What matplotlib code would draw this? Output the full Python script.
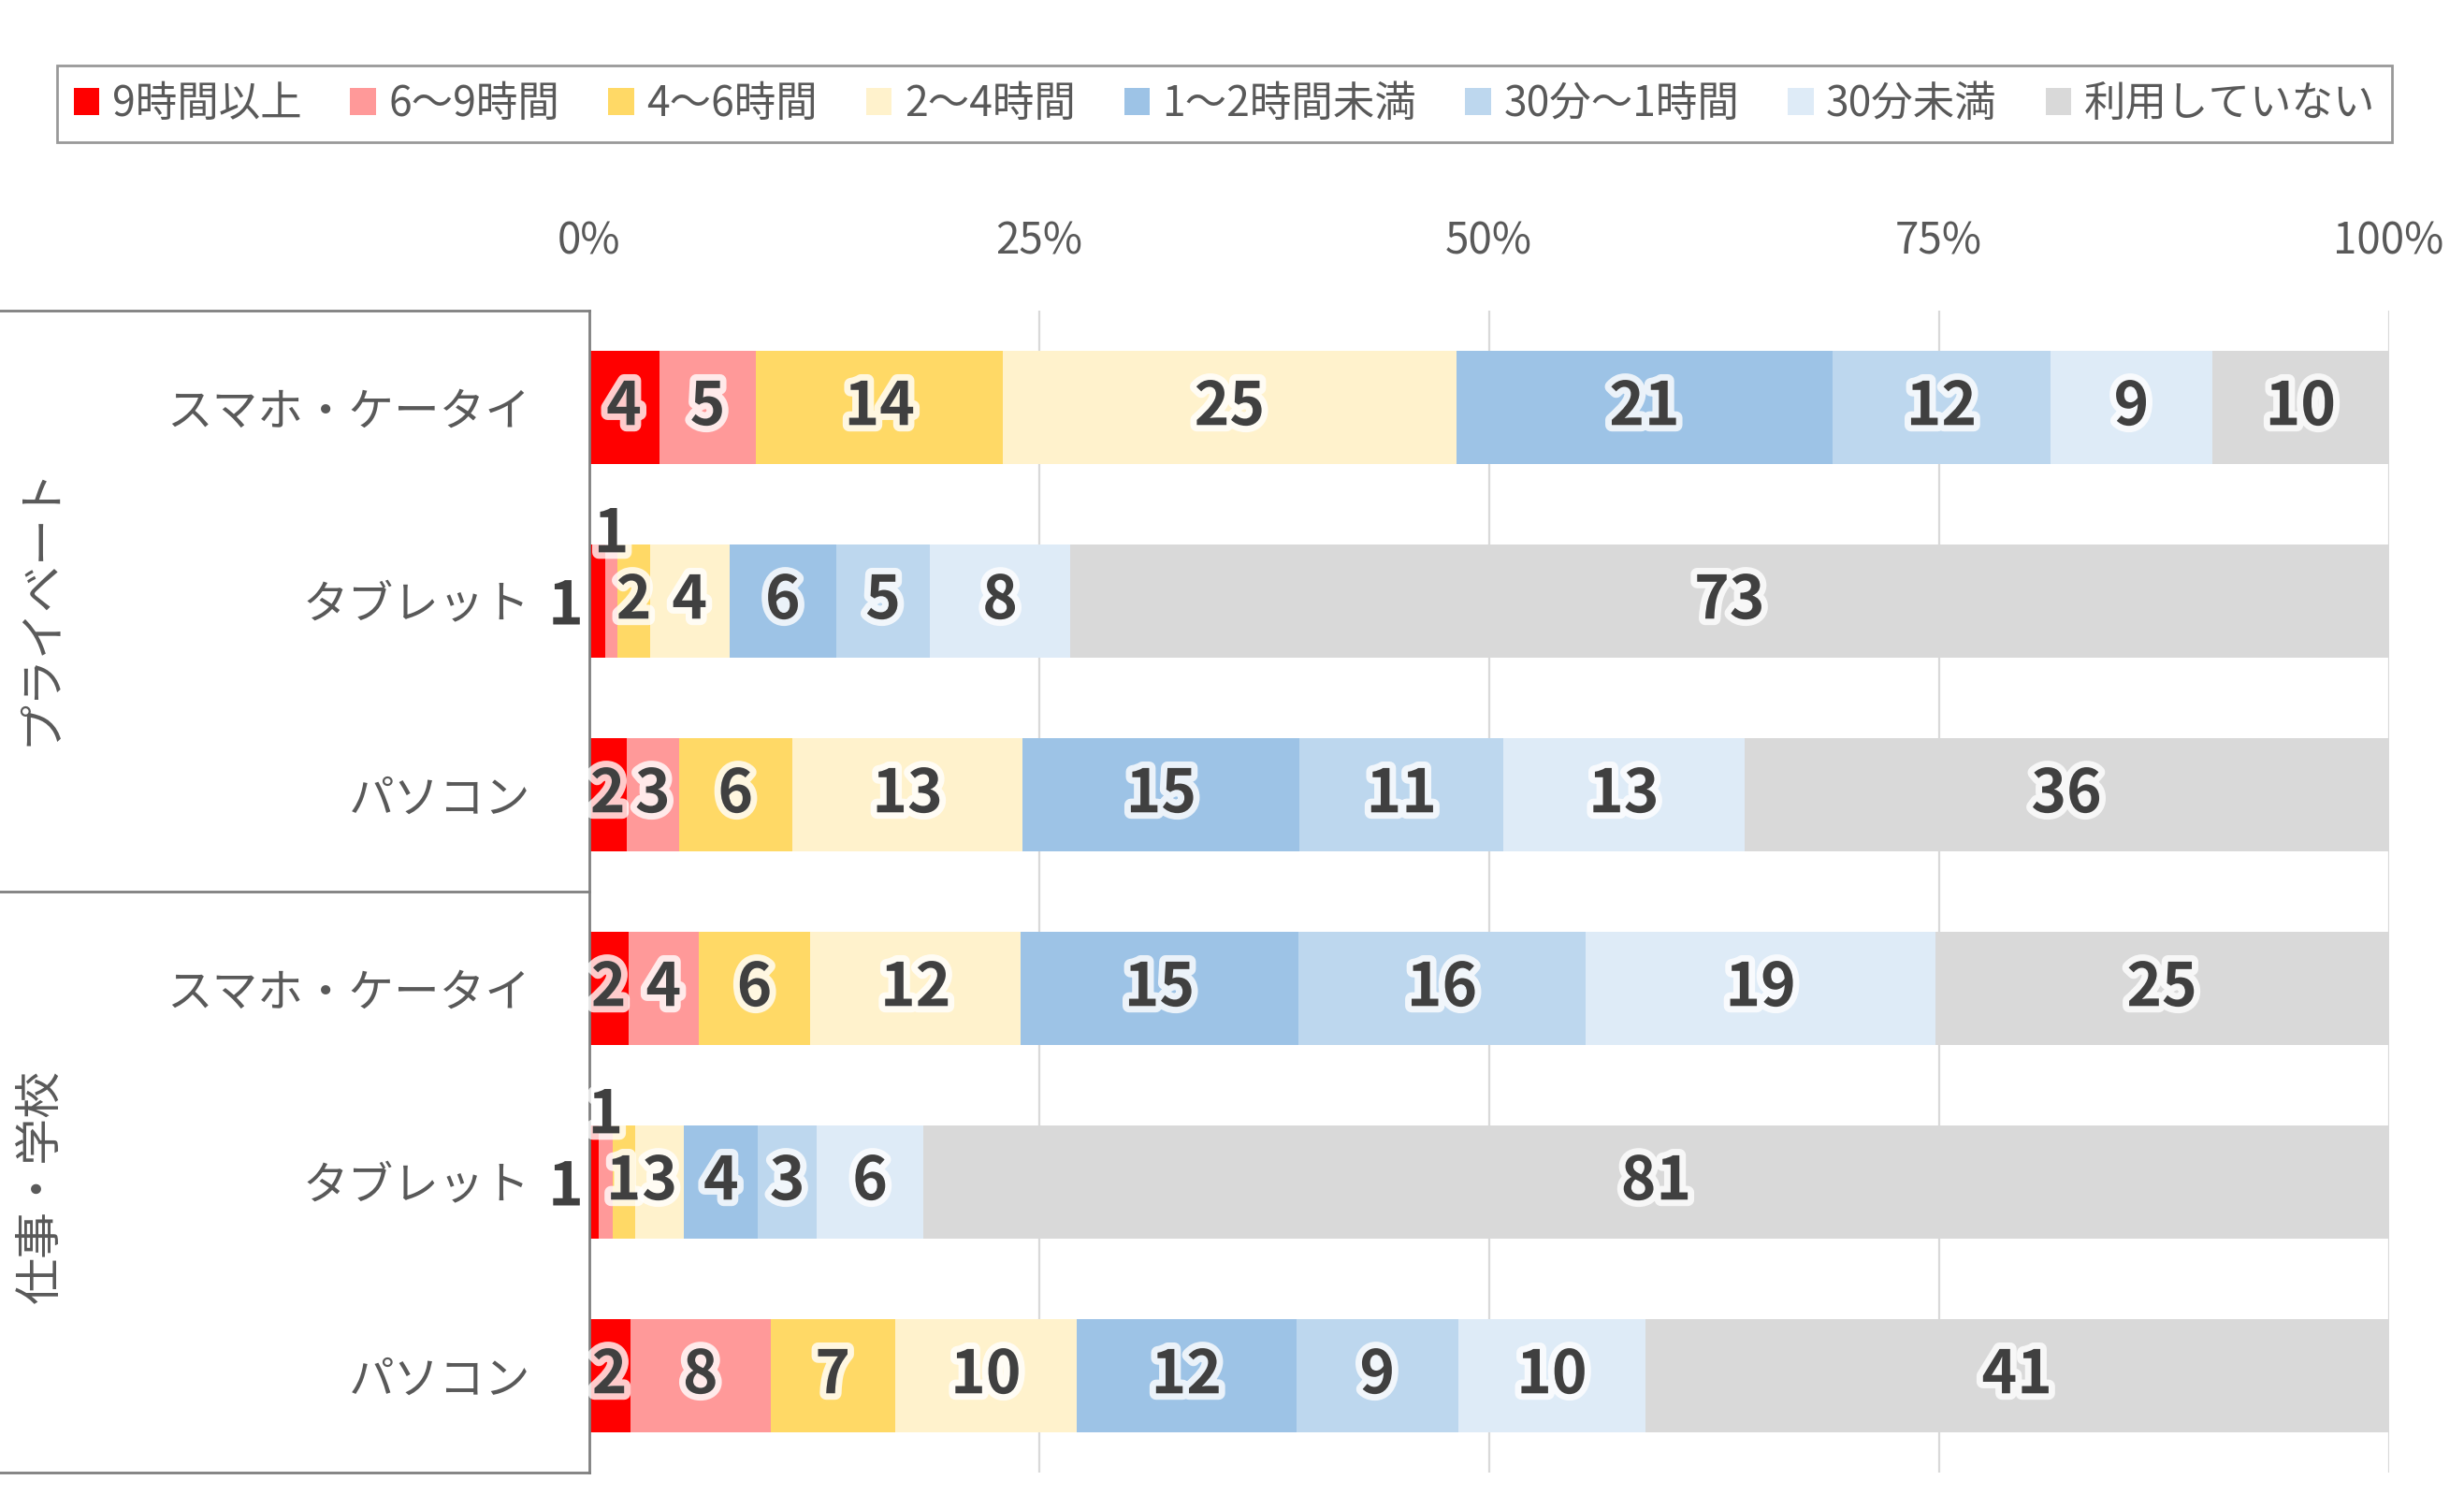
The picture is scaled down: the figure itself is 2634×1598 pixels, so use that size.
import numpy as np
import matplotlib.pyplot as plt
import matplotlib.patheffects as pe
from matplotlib.transforms import blended_transform_factory

plt.rcParams['font.family'] = ['Noto Sans CJK JP', 'DejaVu Sans']

# legend series (left to right in each bar)
series = ["9時間以上", "6～9時間", "4～6時間", "2～4時間",
          "1～2時間未満", "30分～1時間", "30分未満", "利用していない"]
colors = ["#FF0000", "#FF9999", "#FFD966", "#FFF2CC",
          "#9DC3E6", "#BDD7EE", "#DEEBF7", "#D9D9D9"]

devices = ["スマホ・ケータイ", "タブレット", "パソコン",
           "スマホ・ケータイ", "タブレット", "パソコン"]
groups = ["プライベート", "仕事・学校"]

# percentages per row
priv_phone = [3.9, 5.4, 13.7, 25.2, 20.9, 12.1, 9.0, 9.8]
priv_tablet = [0.9, 0.7, 1.8, 4.4, 5.95, 5.2, 7.8, 73.25]
priv_pc = [2.1, 2.9, 6.3, 12.8, 15.4, 11.3, 13.4, 35.8]
work_phone = [2.2, 3.9, 6.2, 11.7, 15.4, 16.0, 19.4, 25.2]
work_tablet = [0.55, 0.75, 1.27, 2.73, 4.1, 3.25, 5.95, 81.4]
work_pc = [2.3, 7.8, 6.9, 10.1, 12.2, 9.0, 10.4, 41.3]

rows = np.array([priv_phone, priv_tablet, priv_pc,
                 work_phone, work_tablet, work_pc])

# where tiny segment labels get moved to
label_moves = {(1, 0): "left", (1, 1): "above", (4, 0): "left", (4, 1): "above"}

fig = plt.figure(figsize=(26.34, 15.98), dpi=100)
ax = fig.add_axes([629.5 / 2634, 1 - 1574 / 1598, 1924 / 2634, 1242 / 1598])

y = np.arange(len(devices))
bar_h = 0.585
left = np.zeros(len(devices))
handles = []
for j, name in enumerate(series):
    vals = rows[:, j]
    b = ax.barh(y, vals, left=left, height=bar_h, color=colors[j],
                label=name, zorder=2)
    handles.append(b)
    for i in range(len(devices)):
        v = vals[i]
        cx = left[i] + v / 2
        cy = y[i]
        ha, va = "center", "center"
        mode = label_moves.get((i, j))
        if mode == "left":
            cx, ha = -0.3, "right"
            cy = y[i] + 0.03
        elif mode == "above":
            cy = y[i] - bar_h / 2 - 0.05
        ax.text(cx, cy, f"{v:.0f}", ha=ha, va=va, fontsize=46,
                fontweight="bold", color="#404040", zorder=5, clip_on=False,
                path_effects=[pe.withStroke(linewidth=10, foreground="white", alpha=0.8)])
    left += vals

ax.set_xlim(0, 100)
ax.set_ylim(len(devices) - 0.5, -0.5)
ax.xaxis.tick_top()
ax.set_xticks([0, 25, 50, 75, 100])
ax.set_xticklabels(["0%", "25%", "50%", "75%", "100%"])
ax.tick_params(axis="x", length=0, pad=36, labelsize=33, labelcolor="#595959")
ax.set_yticks(y)
ax.set_yticklabels(devices)
ax.tick_params(axis="y", length=0, pad=45, labelsize=35, labelcolor="#595959")
ax.grid(axis="x", color="#D9D9D9", linewidth=1.6, zorder=0)
ax.set_axisbelow(True)
for s in ["top", "right", "bottom"]:
    ax.spines[s].set_visible(False)
ax.spines["left"].set_color("#808080")
ax.spines["left"].set_linewidth(2)
ax.spines["left"].set_zorder(3)

# left panel frame lines and group labels
tr = blended_transform_factory(ax.transAxes, ax.transData)
x_edge = -629.5 / 1924
for yy in [-0.5, 2.5, 5.5]:
    ax.plot([x_edge, 0], [yy, yy], color="#808080", linewidth=2,
            transform=tr, clip_on=False)
for k, g in enumerate(groups):
    ax.text(-0.3043, 3 * k + 1.02, g, transform=tr, rotation=90,
            ha="center", va="center", fontsize=36, color="#595959")

leg = fig.legend(handles=handles, loc="center", ncol=8, mode="expand",
                 bbox_to_anchor=(61 / 2634, 1 - 159 / 1598, 2496 / 2634, 96 / 1598),
                 fontsize=32, frameon=True, fancybox=False, borderpad=0.4,
                 handlelength=0.62, handleheight=0.62, handletextpad=0.3,
                 columnspacing=0.4, labelcolor="#595959", borderaxespad=0)
leg.get_frame().set_edgecolor("#808080")
leg.get_frame().set_linewidth(2)

fig.savefig("out.png", dpi=100)
